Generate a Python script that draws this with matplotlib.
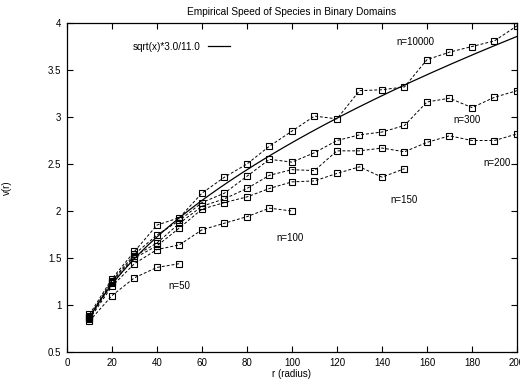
import numpy as np
import matplotlib
matplotlib.use("Agg")
import matplotlib.pyplot as plt

plt.rcParams['font.family'] = ['Liberation Sans', 'DejaVu Sans']

# ---------------- data ----------------
r_all = [10, 20, 30, 40, 50, 60, 70, 80, 90, 100,
         110, 120, 130, 140, 150, 160, 170, 180, 190, 200]

v_10000 = [0.90, 1.28, 1.57, 1.85, 1.93, 2.19, 2.36, 2.50, 2.69, 2.85,
           3.01, 2.98, 3.28, 3.29, 3.32, 3.61, 3.69, 3.75, 3.81, 3.97]
v_300 = [0.88, 1.26, 1.54, 1.745, 1.90, 2.09, 2.19, 2.37, 2.55, 2.52,
         2.62, 2.75, 2.81, 2.84, 2.91, 3.16, 3.20, 3.10, 3.21, 3.28]
v_200 = [0.87, 1.25, 1.52, 1.66, 1.87, 2.05, 2.13, 2.24, 2.38, 2.44,
         2.43, 2.64, 2.64, 2.67, 2.63, 2.73, 2.80, 2.75, 2.75, 2.82]
v_150 = [0.86, 1.23, 1.50, 1.63, 1.82, 2.02, 2.09, 2.15, 2.24, 2.31,
         2.32, 2.40, 2.47, 2.36, 2.45]
v_100 = [0.85, 1.20, 1.44, 1.59, 1.64, 1.80, 1.87, 1.94, 2.03, 2.00]
v_50 = [0.83, 1.10, 1.29, 1.40, 1.44]

series = [v_10000, v_300, v_200, v_150, v_100, v_50]

labels = ["n=10000", "n=300", "n=200", "n=150", "n=100", "n=50"]
label_pos = [(155, 3.80), (178, 2.97), (191, 2.51), (150, 2.12), (99, 1.71), (50, 1.20)]

# ---------------- plotting ----------------
fig = plt.figure(figsize=(5.2, 3.79), dpi=100)
ax = fig.add_axes([0.1288, 0.0712, 0.8654, 0.8681])

for v in series:
    ax.plot(r_all[:len(v)], v, color='black', lw=0.7, ls=(0, (3, 2)),
            marker='s', ms=4.5, mfc='none', mec='black', mew=0.8)

x = np.linspace(10, 200, 300)
line, = ax.plot(x, np.sqrt(x) * 3.0 / 11.0, color='black', lw=0.9,
                label='sqrt(x)*3.0/11.0')

for lab, (px, py) in zip(labels, label_pos):
    ax.text(px, py, lab, fontsize=7, ha='center', va='center')

ax.legend(handles=[line], loc='upper left', bbox_to_anchor=(0.125, 0.97),
          frameon=False, markerfirst=False, fontsize=7.2, handlelength=2.2,
          handletextpad=0.8)

ax.set_xlim(0, 200)
ax.set_ylim(0.5, 4)
ax.set_xticks(range(0, 201, 20))
ax.set_yticks(np.arange(0.5, 4.01, 0.5))
ax.set_yticklabels(['0.5', '1', '1.5', '2', '2.5', '3', '3.5', '4'])
ax.tick_params(direction='in', top=True, right=True, labelsize=7,
               length=4, width=0.8, pad=4)
for s in ax.spines.values():
    s.set_linewidth(0.9)

ax.set_title("Empirical Speed of Species in Binary Domains", fontsize=7.3, pad=6)
ax.set_xlabel("r (radius)", fontsize=7, labelpad=1)
ax.set_ylabel("v(r)", fontsize=7)
ax.yaxis.set_label_coords(-0.122, 0.5)

fig.savefig("out.png", dpi=100)
